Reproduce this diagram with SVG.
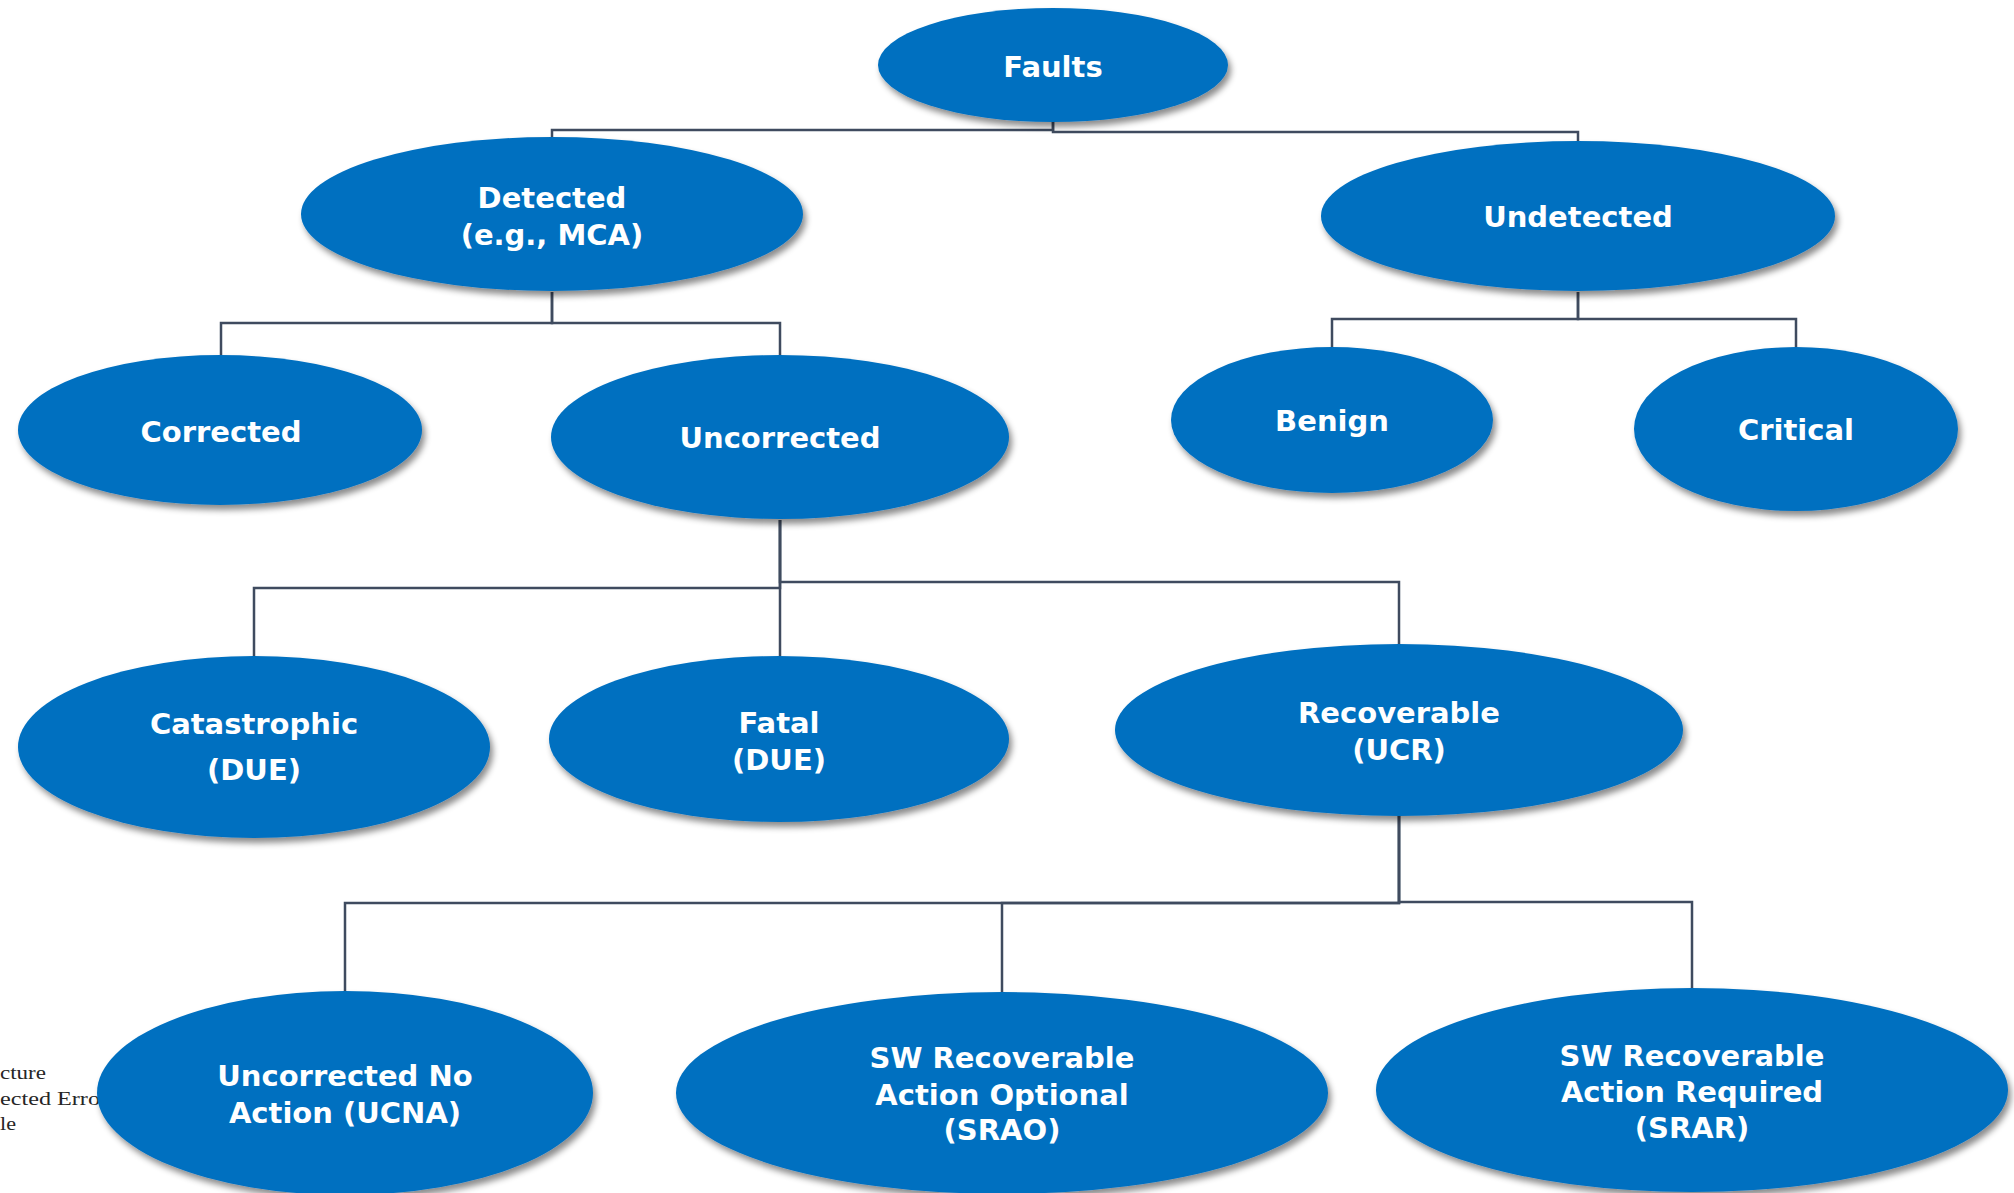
<svg xmlns="http://www.w3.org/2000/svg" width="2014" height="1193" viewBox="0 0 2014 1193">
  <style>
    .node { fill: #0070c0; filter: url(#shadow); }
    .label { font-family: "DejaVu Sans", Verdana, "Liberation Sans", sans-serif; font-weight: bold; font-size: 29px; fill: #ffffff; text-anchor: middle; }
    .wire { fill: none; stroke: #3f4b5f; stroke-width: 2.5; }
    .note { font-family: "Liberation Serif", "Noto Sans CJK SC", serif; font-size: 18px; fill: #262626; }
  </style>
  <defs>
    <filter id="shadow" x="-10%" y="-10%" width="125%" height="130%">
      <feDropShadow dx="3" dy="5" stdDeviation="3" flood-color="#000000" flood-opacity="0.45"/>
    </filter>
  </defs>
  <rect width="2014" height="1193" fill="#ffffff"/>

  <!-- side note fragments at the left edge -->
  <g id="side-note">
    <text class="note" x="0" y="1079" textLength="46" lengthAdjust="spacingAndGlyphs">cture</text>
    <text class="note" x="0" y="1105" textLength="100" lengthAdjust="spacingAndGlyphs">ected Erro</text>
    <text class="note" x="0" y="1130" textLength="16" lengthAdjust="spacingAndGlyphs">le</text>
  </g>

  <!-- elbow connectors -->
  <g id="connectors">
    <path class="wire" d="M1053,122 V130 H552 V137"/>
    <path class="wire" d="M1053,122 V132 H1578 V141"/>
    <path class="wire" d="M552,292 V323 H221 V355"/>
    <path class="wire" d="M552,292 V323 H780 V355"/>
    <path class="wire" d="M1578,292 V319 H1332 V347"/>
    <path class="wire" d="M1578,292 V319 H1796 V347"/>
    <path class="wire" d="M780,520 V588 H254 V656"/>
    <path class="wire" d="M780,520 V656"/>
    <path class="wire" d="M780,520 V582 H1399 V644"/>
    <path class="wire" d="M1399,816 V903 H345 V991"/>
    <path class="wire" d="M1399,816 V903 H1002 V992"/>
    <path class="wire" d="M1399,816 V902 H1692 V988"/>
  </g>

  <g id="faults">
    <ellipse class="node" cx="1053" cy="65" rx="175" ry="57"/>
    <text class="label" x="1053" y="77">Faults</text>
  </g>
  <g id="detected">
    <ellipse class="node" cx="552" cy="214" rx="251" ry="77"/>
    <text class="label" x="552" y="208">Detected</text>
    <text class="label" x="552" y="245">(e.g., MCA)</text>
  </g>
  <g id="undetected">
    <ellipse class="node" cx="1578" cy="216" rx="257" ry="75"/>
    <text class="label" x="1578" y="227">Undetected</text>
  </g>
  <g id="corrected">
    <ellipse class="node" cx="220" cy="430" rx="202" ry="75"/>
    <text class="label" x="221" y="442">Corrected</text>
  </g>
  <g id="uncorrected">
    <ellipse class="node" cx="780" cy="437" rx="229" ry="82"/>
    <text class="label" x="780" y="448">Uncorrected</text>
  </g>
  <g id="benign">
    <ellipse class="node" cx="1332" cy="420" rx="161" ry="73"/>
    <text class="label" x="1332" y="431">Benign</text>
  </g>
  <g id="critical">
    <ellipse class="node" cx="1796" cy="429" rx="162" ry="82"/>
    <text class="label" x="1796" y="440">Critical</text>
  </g>
  <g id="catastrophic">
    <ellipse class="node" cx="254" cy="747" rx="236" ry="91"/>
    <text class="label" x="254" y="734">Catastrophic</text>
    <text class="label" x="254" y="780">(DUE)</text>
  </g>
  <g id="fatal">
    <ellipse class="node" cx="779" cy="739" rx="230" ry="83"/>
    <text class="label" x="779" y="733">Fatal</text>
    <text class="label" x="779" y="770">(DUE)</text>
  </g>
  <g id="recoverable">
    <ellipse class="node" cx="1399" cy="730" rx="284" ry="86"/>
    <text class="label" x="1399" y="723">Recoverable</text>
    <text class="label" x="1399" y="760">(UCR)</text>
  </g>
  <g id="ucna">
    <ellipse class="node" cx="345" cy="1093" rx="248" ry="102"/>
    <text class="label" x="345" y="1086">Uncorrected No</text>
    <text class="label" x="345" y="1123">Action (UCNA)</text>
  </g>
  <g id="srao">
    <ellipse class="node" cx="1002" cy="1093" rx="326" ry="101"/>
    <text class="label" x="1002" y="1068">SW Recoverable</text>
    <text class="label" x="1002" y="1105">Action Optional</text>
    <text class="label" x="1002" y="1140">(SRAO)</text>
  </g>
  <g id="srar">
    <ellipse class="node" cx="1692" cy="1090" rx="316" ry="102"/>
    <text class="label" x="1692" y="1066">SW Recoverable</text>
    <text class="label" x="1692" y="1102">Action Required</text>
    <text class="label" x="1692" y="1138">(SRAR)</text>
  </g>
</svg>
